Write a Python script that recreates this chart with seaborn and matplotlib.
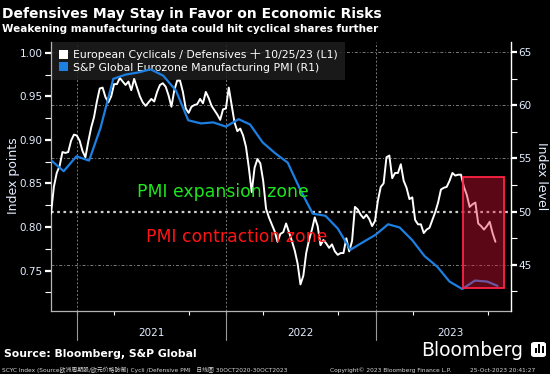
import pandas as pd
import matplotlib
matplotlib.use('Agg')
import matplotlib.pyplot as plt
import matplotlib.dates as mdates
import matplotlib.transforms as mtransforms
from matplotlib.patches import Patch, Rectangle, FancyBboxPatch
import seaborn as sns

# European Cyclicals / Defensives ratio, weekly (Fridays) from 30 Oct 2020
ratio_start = '2020-10-30'
ratio_values = [
    0.815, 0.846, 0.862, 0.870, 0.886, 0.885, 0.886, 0.899, 0.906, 0.905,
    0.899, 0.887, 0.880, 0.898, 0.914, 0.926, 0.944, 0.959, 0.960, 0.949,
    0.943, 0.950, 0.964, 0.964, 0.971, 0.967, 0.963, 0.967, 0.957, 0.970,
    0.960, 0.950, 0.943, 0.939, 0.943, 0.947, 0.944, 0.955, 0.963, 0.965,
    0.961, 0.951, 0.938, 0.957, 0.968, 0.968, 0.955, 0.936, 0.931, 0.938,
    0.940, 0.941, 0.947, 0.942, 0.955, 0.948, 0.939, 0.934, 0.929, 0.923,
    0.935, 0.936, 0.960, 0.940, 0.920, 0.910, 0.913, 0.905, 0.892, 0.868,
    0.840, 0.868, 0.878, 0.873, 0.853, 0.821, 0.811, 0.803, 0.795, 0.783,
    0.792, 0.794, 0.804, 0.794, 0.784, 0.773, 0.758, 0.734, 0.744, 0.770,
    0.785, 0.797, 0.811, 0.801, 0.779, 0.785, 0.781, 0.776, 0.780, 0.772,
    0.768, 0.770, 0.770, 0.787, 0.772, 0.784, 0.823, 0.820, 0.814, 0.810,
    0.814, 0.809, 0.801, 0.807, 0.830, 0.846, 0.850, 0.880, 0.882, 0.856,
    0.862, 0.862, 0.872, 0.853, 0.845, 0.832, 0.834, 0.808, 0.803, 0.803,
    0.793, 0.797, 0.799, 0.808, 0.817, 0.828, 0.843, 0.845, 0.846, 0.853,
    0.862, 0.859, 0.860, 0.860, 0.846, 0.837, 0.823, 0.826, 0.828, 0.804,
    0.801, 0.797, 0.801, 0.806, 0.793, 0.783,
]

# S&P Global Eurozone Manufacturing PMI, monthly Oct 2020 - Sep 2023 plus Oct 2023 flash
pmi_months = pd.date_range('2020-10-31', '2023-09-30', freq='ME').strftime('%Y-%m-%d').tolist() + ['2023-10-25']
pmi_values = [
    54.8, 53.8, 55.2, 54.8, 57.9, 62.5, 62.9, 63.1, 63.4, 62.8,
    61.4, 58.6, 58.3, 58.4, 58.0, 58.7, 58.2, 56.5, 55.5, 54.6,
    52.1, 49.8, 49.6, 48.4, 46.4, 47.1, 47.8, 48.8, 48.5, 47.3,
    45.8, 44.8, 43.4, 42.7, 43.5, 43.4, 43.0,
]

left_ticks = [0.75, 0.80, 0.85, 0.90, 0.95, 1.00]
right_ticks = [45, 50, 55, 60, 65]
year_starts = ['2021-01-01', '2022-01-01', '2023-01-01']

ratio_df = pd.DataFrame({
    'date': pd.date_range(ratio_start, periods=len(ratio_values), freq='7D'),
    'ratio': ratio_values,
})
pmi_df = pd.DataFrame({'date': pd.to_datetime(pmi_months), 'pmi': pmi_values})

sns.set_theme(style='dark', rc={'axes.facecolor': 'black', 'figure.facecolor': 'black'})
plt.rcParams['font.family'] = ['DejaVu Sans', 'Noto Sans CJK SC']

blue = '#1c7fe2'
tick_col = '#e4eeff'
grid_col = '#7a7a7a'

fig = plt.figure(figsize=(5.5, 3.74), dpi=100, facecolor='black')
ax = fig.add_axes([51 / 550, 63 / 374, 460 / 550, 269.3 / 374])
ax2 = ax.twinx()

sns.lineplot(data=ratio_df, x='date', y='ratio', ax=ax, color='white', lw=1.4, zorder=3)
sns.lineplot(data=pmi_df, x='date', y='pmi', ax=ax2, color=blue, lw=1.6, zorder=3)

ax.set_xlim(pd.Timestamp('2020-10-30'), pd.Timestamp('2023-11-27'))
ax.set_ylim(0.7035, 1.0127)
ax2.set_ylim(40.63, 66.0)

# grid lines follow the right axis, drawn inside ax so they sit under the lines
gtrans = mtransforms.blended_transform_factory(ax.transAxes, ax2.transData)
for v in right_ticks:
    if v == 50:
        ax.plot([0, 1], [v, v], transform=gtrans, color='#cfcfcf', lw=1.6,
                ls=(0, (1.2, 1.6)), zorder=1)
    else:
        ax.plot([0, 1], [v, v], transform=gtrans, color=grid_col, lw=0.7,
                ls=(0, (3, 2, 1, 2)), zorder=1)

vtrans = mtransforms.blended_transform_factory(ax.transData, ax.transAxes)
for d in year_starts:
    d = pd.Timestamp(d)
    ax.plot([d, d], [0, 1], transform=vtrans, color=grid_col, lw=0.7, ls=(0, (2, 2)), zorder=1)
    ax.plot([d, d], [0, -0.108], transform=vtrans, color='#9a9a9a', lw=0.8, clip_on=False)

# x axis: year labels mid-year, quarterly minor ticks
ax.xaxis.set_major_locator(mdates.MonthLocator(bymonth=7, bymonthday=1))
ax.xaxis.set_major_formatter(mdates.DateFormatter('%Y'))
ax.xaxis.set_minor_locator(mdates.MonthLocator(bymonth=[1, 4, 7, 10]))
ax.tick_params(axis='x', which='major', length=0, pad=12, labelsize=7.5, labelcolor=tick_col)
ax.tick_params(axis='x', which='minor', length=3, width=0.8, color='white', direction='out', bottom=True)

ax.set_yticks(left_ticks)
ax.set_yticklabels([f'{t:.2f}' for t in left_ticks])
ax.set_yticks([0.725, 0.775, 0.825, 0.875, 0.925, 0.975], minor=True)
ax.tick_params(axis='y', which='major', length=4, width=1.6, color='white', labelsize=7.5,
               labelcolor=tick_col, pad=2, left=True)
ax.tick_params(axis='y', which='minor', length=4, width=0.8, color='white', left=True)

ax2.set_yticks(right_ticks)
ax2.set_yticks([42.5, 47.5, 52.5, 57.5, 62.5], minor=True)
ax2.tick_params(axis='y', which='major', length=4, width=1.6, color='white', labelsize=7.5,
                labelcolor=tick_col, pad=1, right=True)
ax2.tick_params(axis='y', which='minor', length=4, width=0.8, color='white', right=True)

for a in (ax, ax2):
    a.set_xlabel('')
    a.set_ylabel('')
    a.grid(False)
    for s in a.spines.values():
        s.set_visible(False)
ax.spines['left'].set_visible(True)
ax.spines['left'].set_color('#b4b4b4')
ax.spines['left'].set_linewidth(0.9)
ax.spines['bottom'].set_visible(True)
ax.spines['bottom'].set_color('#b4b4b4')
ax.spines['bottom'].set_linewidth(0.9)
ax2.spines['right'].set_visible(True)
ax2.spines['right'].set_color('white')
ax2.spines['right'].set_linewidth(1.0)

# highlighted recent period
box = Rectangle((mdates.date2num(pd.Timestamp('2023-08-01')), 42.75),
                mdates.date2num(pd.Timestamp('2023-11-09')) - mdates.date2num(pd.Timestamp('2023-08-01')),
                53.3 - 42.75, facecolor=(0.9, 0.08, 0.22, 0.4), edgecolor='#ff2344', lw=1.3, zorder=10)
ax2.add_patch(box)

# zone labels
ax2.text(pd.Timestamp('2021-05-29'), 51.8, 'PMI expansion zone', color='#1ee61e', fontsize=12.4,
         ha='left', va='center', zorder=11)
ax2.text(pd.Timestamp('2021-06-20'), 47.6, 'PMI contraction zone', color='#ff1414', fontsize=12.4,
         ha='left', va='center', zorder=11)

handles = [Patch(facecolor='white', edgecolor='none'), Patch(facecolor=blue, edgecolor='none')]
labels = ['European Cyclicals / Defensives 十 10/25/23 (L1)',
          'S&P Global Eurozone Manufacturing PMI (R1)']
leg = ax.legend(handles, labels, loc='upper left', bbox_to_anchor=(0, 1), borderaxespad=0,
                frameon=True, fontsize=7.8, handlelength=0.9, handleheight=0.9, handletextpad=0.4,
                labelspacing=0.2, borderpad=0.7, fancybox=False)
leg.get_frame().set_facecolor('#1e1e1e')
leg.get_frame().set_edgecolor('none')
leg.get_frame().set_alpha(0.85)
leg.set_zorder(2)
for t in leg.get_texts():
    t.set_color('white')

fig.text(14 / 550, 1 - 176 / 374, 'Index points', rotation=90, ha='center', va='center',
         color=tick_col, fontsize=9)
fig.text(541 / 550, 1 - 176 / 374, 'Index level', rotation=270, ha='center', va='center',
         color=tick_col, fontsize=9)

fig.text(2 / 550, 1 - 18.3 / 374, 'Defensives May Stay in Favor on Economic Risks',
         color='white', fontsize=10, fontweight='bold', va='baseline', ha='left')
fig.text(2 / 550, 1 - 31.7 / 374, 'Weakening manufacturing data could hit cyclical shares further',
         color='white', fontsize=7.5, fontweight='bold', va='baseline', ha='left')

fig.text(4 / 550, 1 - 357 / 374, 'Source: Bloomberg, S&P Global', color='white', fontsize=7.8,
         fontweight='bold', va='baseline', ha='left')
fig.text(523 / 550, 1 - 356 / 374, 'Bloomberg', color='white', fontsize=13.5, va='baseline', ha='right')
fig.patches.append(FancyBboxPatch((531 / 550, 1 - 357 / 374), 15 / 550, 15 / 374,
                                  boxstyle='round,pad=0,rounding_size=0.006', transform=fig.transFigure,
                                  facecolor='white', edgecolor='none'))
for bx, bh in [(534.5, 5), (538, 9), (541.5, 7)]:
    fig.patches.append(Rectangle((bx / 550, 1 - 353 / 374), 2 / 550, bh / 374,
                                 transform=fig.transFigure, facecolor='black', edgecolor='none'))

foot_kw = dict(color='#d8d8d8', fontsize=4.2, va='baseline', ha='left')
fig.text(2 / 550, 1 - 372 / 374, 'SCYC Index (Source欧洲周期股/欧元价格防御) Cycli /Defensive PMI   日线图 30OCT2020-30OCT2023', **foot_kw)
fig.text(330 / 550, 1 - 372 / 374, 'Copyright© 2023 Bloomberg Finance L.P.', **foot_kw)
fig.text(470 / 550, 1 - 372 / 374, '25-Oct-2023 20:41:27', **foot_kw)

fig.savefig('out.png', dpi=100, facecolor='black')
